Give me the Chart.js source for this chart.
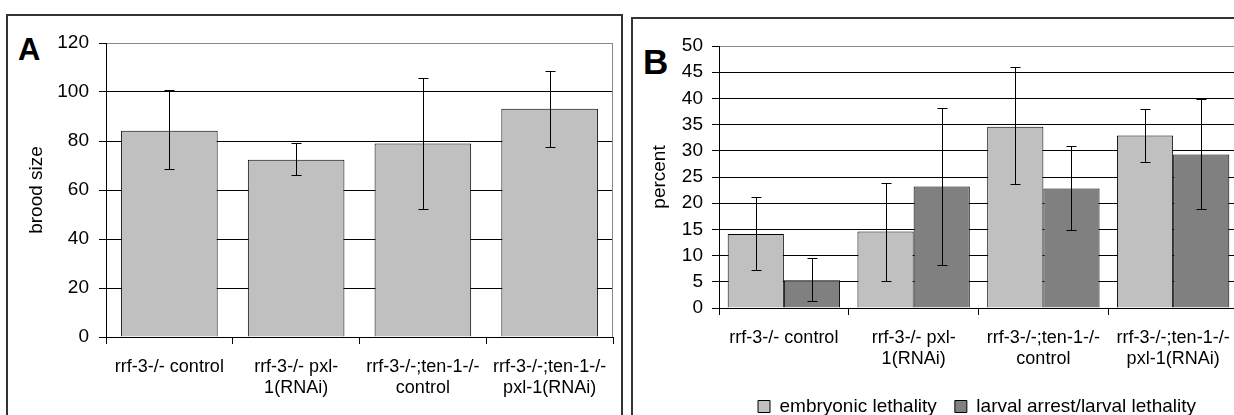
<!DOCTYPE html>
<html lang="en">
<head>
  <meta charset="UTF-8">
  <title>Brood size and lethality</title>
  <script src="https://cdn.jsdelivr.net/npm/chart.js"></script>
  <style>
    body { margin: 0; width: 1234px; height: 415px; overflow: hidden; background: #fff; position: relative; font-family: "Liberation Sans", Arial, sans-serif; }
    .frame { position: absolute; border: 2px solid #333; box-sizing: border-box; }
    .letter { position: absolute; font-weight: bold; line-height: 1; color: #000; }
    canvas { position: absolute; }
  </style>
</head>
<body>
  <div class="frame" style="left:6px; top:14px; width:617px; height:412px;"></div>
  <div class="frame" style="left:631px; top:17px; width:700px; height:412px;"></div>
  <div class="letter" style="left:18px; top:34px; font-size:31px;">A</div>
  <div class="letter" style="left:643px; top:44px; font-size:35px;">B</div>

  <canvas id="chartA" width="612" height="399" style="left:8px; top:16px;"></canvas>
  <canvas id="chartB" width="688" height="407" style="left:633px; top:19px;"></canvas>

  <script>
    // categories (same for both panels)
    const categories = [
      'rrf-3-/- control',
      ['rrf-3-/- pxl-', '1(RNAi)'],
      ['rrf-3-/-;ten-1-/-', 'control'],
      ['rrf-3-/-;ten-1-/-', 'pxl-1(RNAi)']
    ];

    // panel A: brood size
    const broodSize = [84.2, 72.3, 79.0, 93.2];
    const broodLow  = [68.5, 66.0, 52.2, 77.7];
    const broodHigh = [100.8, 79.0, 105.9, 108.7];

    // panel B: percent lethality
    const embryonic     = [14.1, 14.6, 34.6, 32.9];
    const embryonicLow  = [7.3, 5.1, 23.7, 27.9];
    const embryonicHigh = [21.2, 23.8, 45.9, 37.9];
    const larval     = [5.3, 23.2, 22.8, 29.3];
    const larvalLow  = [1.3, 8.3, 14.9, 18.9];
    const larvalHigh = [9.5, 38.2, 30.9, 39.8];

    Chart.defaults.font.family = '"Liberation Sans", Arial, sans-serif';
    Chart.defaults.color = '#000';

    // draws error bars from each dataset's low/high arrays
    const errorBars = {
      id: 'errorBars',
      afterDatasetsDraw(chart) {
        const ctx = chart.ctx;
        const y = chart.scales.y;
        ctx.save();
        ctx.strokeStyle = '#000';
        ctx.lineWidth = 1;
        chart.data.datasets.forEach((ds, i) => {
          const meta = chart.getDatasetMeta(i);
          meta.data.forEach((bar, j) => {
            const x = Math.round(bar.x) + 0.5;
            const top = Math.round(y.getPixelForValue(ds.high[j])) + 0.5;
            const bot = Math.round(y.getPixelForValue(ds.low[j])) + 0.5;
            ctx.beginPath();
            ctx.moveTo(x, top); ctx.lineTo(x, bot);
            ctx.moveTo(x - 5, top); ctx.lineTo(x + 5, top);
            ctx.moveTo(x - 5, bot); ctx.lineTo(x + 5, bot);
            ctx.stroke();
          });
        });
        ctx.restore();
      }
    };

    // grey plot-area border on the right side
    const plotBorder = {
      id: 'plotBorder',
      beforeDatasetsDraw(chart) {
        const a = chart.chartArea;
        const ctx = chart.ctx;
        ctx.save();
        ctx.strokeStyle = '#888';
        ctx.lineWidth = 1;
        ctx.beginPath();
        ctx.moveTo(Math.round(a.right) - 0.5, a.top);
        ctx.lineTo(Math.round(a.right) - 0.5, a.bottom);
        ctx.stroke();
        ctx.restore();
      }
    };

    function xScale(height) {
      return {
        grid: { display: true, drawOnChartArea: false, offset: true, tickLength: 7, color: '#000' },
        border: { color: '#000' },
        ticks: { font: { size: 18 }, padding: 12, maxRotation: 0, autoSkip: false },
        afterFit(scale) { scale.height = height; }
      };
    }

    function yScale(max, step, title, width, titlePad, tickPad) {
      return {
        min: 0, max: max,
        ticks: { stepSize: step, autoSkip: false, font: { size: 19 }, padding: tickPad },
        grid: {
          tickLength: 7,
          tickColor: '#000',
          color: c => (c.tick && c.tick.value === max) ? '#888' : '#000'
        },
        border: { color: '#000' },
        title: { display: true, text: title, font: { size: 19 }, padding: { top: titlePad, bottom: 0 } },
        afterFit(scale) { scale.width = width; }
      };
    }

    new Chart(document.getElementById('chartA'), {
      type: 'bar',
      data: {
        labels: categories,
        datasets: [{
          label: 'brood size',
          data: broodSize,
          low: broodLow,
          high: broodHigh,
          backgroundColor: '#c0c0c0',
          borderColor: '#000',
          borderWidth: 1,
          barPercentage: 0.762,
          categoryPercentage: 1
        }]
      },
      options: {
        responsive: false,
        animation: false,
        layout: { padding: { top: 27, right: 7, left: 0, bottom: 0 } },
        plugins: { legend: { display: false }, tooltip: { enabled: false } },
        scales: {
          x: xScale(78),
          y: yScale(120, 20, 'brood size', 98, 17, 10)
        }
      },
      plugins: [plotBorder, errorBars]
    });

    new Chart(document.getElementById('chartB'), {
      type: 'bar',
      data: {
        labels: categories,
        datasets: [{
          label: 'embryonic lethality',
          data: embryonic,
          low: embryonicLow,
          high: embryonicHigh,
          backgroundColor: '#c0c0c0',
          borderColor: '#000',
          borderWidth: 1,
          barPercentage: 1,
          categoryPercentage: 0.866
        }, {
          label: 'larval arrest/larval lethality',
          data: larval,
          low: larvalLow,
          high: larvalHigh,
          backgroundColor: '#808080',
          borderColor: '#000',
          borderWidth: 1,
          barPercentage: 1,
          categoryPercentage: 0.866
        }]
      },
      options: {
        responsive: false,
        animation: false,
        layout: { padding: { top: 27, right: 0, left: 0, bottom: 0 } },
        plugins: {
          legend: {
            position: 'bottom',
            labels: { boxWidth: 12, boxHeight: 12, padding: 18, font: { size: 19 } }
          },
          tooltip: { enabled: false }
        },
        scales: {
          x: xScale(71),
          y: yScale(50, 5, 'percent', 86, 15.6, 9),
          // empty right-hand axis that only reserves space
          y2: {
            position: 'right',
            display: true,
            grid: { display: false },
            border: { display: false },
            ticks: { display: false },
            afterFit(scale) { scale.width = 83; }
          }
        }
      },
      plugins: [plotBorder, errorBars]
    });
  </script>
</body>
</html>
